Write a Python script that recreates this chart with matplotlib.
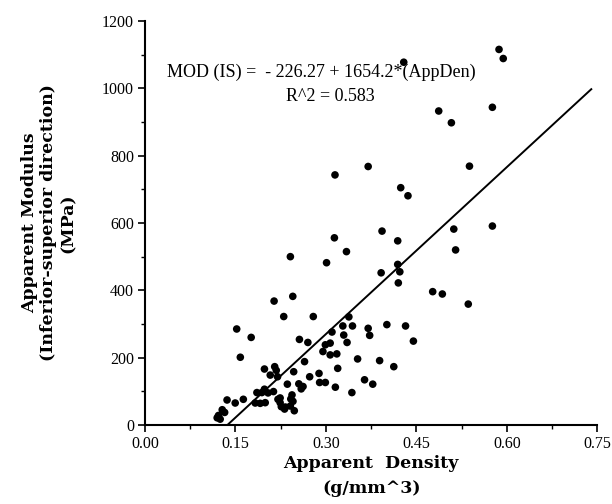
import matplotlib
matplotlib.use("Agg")
import matplotlib.pyplot as plt
import numpy as np
from matplotlib.ticker import MultipleLocator

# Data (apparent density g/mm^3, apparent modulus MPa)
density = [
    0.429, 0.587, 0.594, 0.487, 0.508, 0.576, 0.538, 0.424, 0.436, 0.576,
    0.512, 0.515, 0.393, 0.419, 0.314, 0.334, 0.301, 0.241, 0.419, 0.4225,
    0.3915, 0.420, 0.477, 0.493, 0.214, 0.245, 0.230, 0.279, 0.338, 0.152,
    0.328, 0.344, 0.370, 0.401, 0.432, 0.536, 0.445, 0.310, 0.3725, 0.3295,
    0.256, 0.270, 0.335, 0.299, 0.307, 0.295, 0.307, 0.318, 0.3525, 0.389,
    0.4125, 0.3195, 0.2645, 0.2465, 0.273, 0.2885, 0.2895, 0.299, 0.3156, 0.364,
    0.3776, 0.343, 0.236, 0.255, 0.262, 0.259, 0.2437, 0.2417, 0.2453, 0.226,
    0.2326, 0.2475, 0.224, 0.2197, 0.176, 0.158, 0.198, 0.215, 0.2176, 0.2076,
    0.198, 0.204, 0.213, 0.1937, 0.1855, 0.191, 0.1827, 0.1993, 0.2204, 0.224,
    0.2314, 0.163, 0.1495, 0.136, 0.128, 0.132, 0.1218, 0.1196, 0.1246, 0.315,
    0.370, 0.241,
]
modulus = [
    1078, 1116, 1089, 933, 898, 944, 769, 705, 681, 591,
    582, 520, 576, 547, 556, 515, 482, 500, 477, 455,
    452, 422, 396, 389, 368, 382, 322, 322, 321, 285,
    294, 294, 287, 298, 294, 359, 249, 276, 266, 267,
    254, 245, 245, 238, 243, 218, 208, 211, 196, 191,
    173, 168, 188, 158, 143, 153, 126, 126, 112, 134,
    121, 96, 121, 122, 114, 107, 89, 77, 70, 54,
    53, 42, 80, 143, 260, 201, 166, 173, 162, 148,
    106, 95, 99, 96, 96, 64, 65, 66, 76, 66,
    47, 76, 65, 74, 45, 37, 28, 21, 17, 743,
    768, 56,
]

# Regression
intercept = -226.27
slope = 1654.2
line_x_end = 0.74

x_ticks = [0.00, 0.15, 0.30, 0.45, 0.60, 0.75]
y_ticks = [0, 200, 400, 600, 800, 1000, 1200]

serif = ["Liberation Serif", "DejaVu Serif"]
bold_serif = ["DejaVu Serif"]

fig = plt.figure(figsize=(6.12, 5.04), dpi=100)
ax = fig.add_axes([0.237, 0.157, 0.739, 0.801])

ax.scatter(density, modulus, s=30, color="black", edgecolors="none", zorder=3, clip_on=False)

x0 = -intercept / slope
lx = np.array([x0, line_x_end])
ax.plot(lx, intercept + slope * lx, color="black", lw=1.4, zorder=2)

ax.set_xlim(0, 0.75)
ax.set_ylim(0, 1200)
ax.set_xticks(x_ticks)
ax.set_xticklabels([f"{v:.2f}" for v in x_ticks], fontfamily=serif, fontsize=11.5)
ax.set_yticks(y_ticks)
ax.set_yticklabels([str(v) for v in y_ticks], fontfamily=serif, fontsize=11.5)
ax.xaxis.set_minor_locator(MultipleLocator(0.075))
ax.yaxis.set_minor_locator(MultipleLocator(100))
ax.tick_params(which="major", direction="out", length=5, width=1.2, pad=3)
ax.tick_params(which="minor", direction="out", length=3, width=1.0)

for s in ["top", "right"]:
    ax.spines[s].set_visible(False)
for s in ["left", "bottom"]:
    ax.spines[s].set_linewidth(1.5)

ax.set_xlabel("Apparent  Density\n(g/mm^3)", fontfamily=bold_serif, fontweight="bold",
              fontsize=12.5, linespacing=1.6, labelpad=2)
ax.set_ylabel("Apparent Modulus\n(Inferior-superior direction)\n(MPa)",
              fontfamily=bold_serif, fontweight="bold", fontsize=12.5,
              linespacing=1.2, labelpad=18)

ax.text(0.39, 0.873, "MOD (IS) =  - 226.27 + 1654.2*(AppDen)", transform=ax.transAxes,
        ha="center", va="center", fontfamily=serif, fontsize=13)
ax.text(0.41, 0.813, "R^2 = 0.583", transform=ax.transAxes,
        ha="center", va="center", fontfamily=serif, fontsize=13)

fig.savefig("out.png", dpi=100)
